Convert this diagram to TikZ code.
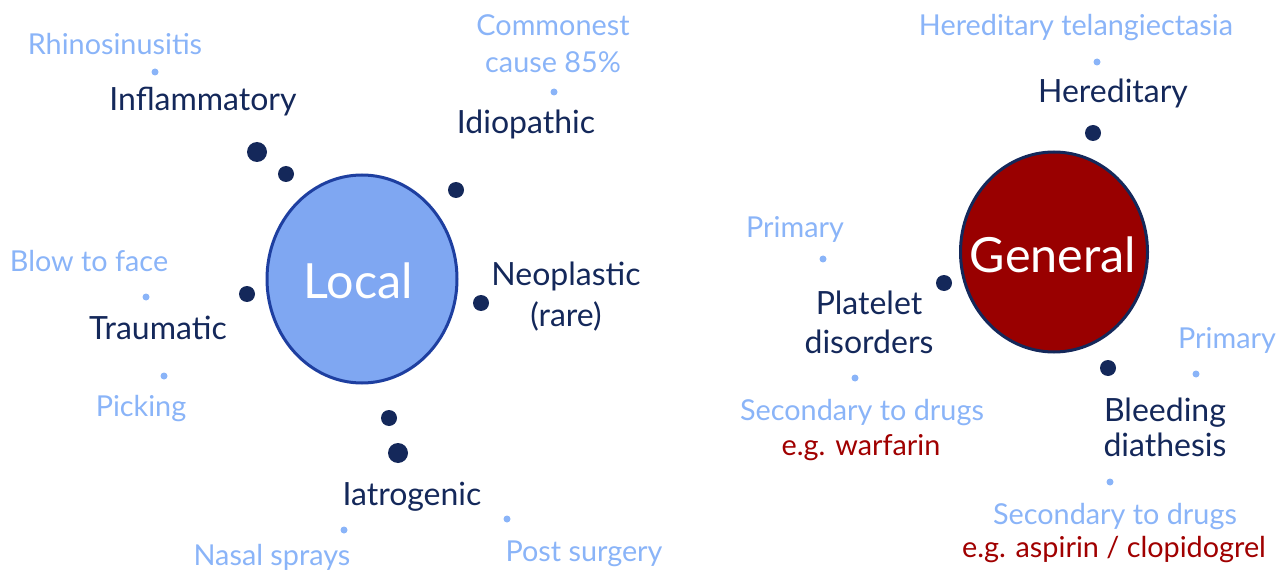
\documentclass[tikz,border=0pt]{standalone}
\usepackage{fontspec}
\setmainfont{Lato}
\usetikzlibrary{shapes.geometric}
\definecolor{navy}{HTML}{14285A}
\definecolor{lite}{HTML}{8AB4F8}
\definecolor{localfill}{HTML}{7FA7F2}
\definecolor{localedge}{HTML}{1E3FA0}
\definecolor{genfill}{HTML}{990000}
\definecolor{redtxt}{HTML}{A00000}
\tikzset{
  main/.style={text=navy, font=\fontsize{32}{38}\selectfont, align=center, inner sep=0pt},
  sub/.style={text=lite, font=\fontsize{28.8}{38}\selectfont, align=center, inner sep=0pt},
  ex/.style={text=redtxt, font=\fontsize{28.8}{38}\selectfont, align=center, inner sep=0pt},
  bigdot/.style={circle, fill=navy, minimum size=20pt, inner sep=0pt},
  meddot/.style={circle, fill=navy, minimum size=16pt, inner sep=0pt},
  smalldot/.style={circle, fill=lite, minimum size=7pt, inner sep=0pt},
  hub/.style={ellipse, line width=3pt, inner sep=0pt},
  hubtext/.style={text=white, font=\fontsize{48.5}{54}\selectfont, inner sep=0pt}
}
\begin{document}
\begin{tikzpicture}[x=1pt,y=-1pt]
\useasboundingbox (0,0) rectangle (1288,572);
% Local
\node[hub, fill=localfill, draw=localedge, minimum width=190pt, minimum height=208pt] (local) at (362,279) {};
\node[hubtext] (localtxt) at (358,281) {Local};
% Inflammatory
\node[sub] (rhino) at (115,44) {Rhinosinusitis};
\node[smalldot] (rhinodot) at (155,72) {};
\node[main] (inflam) at (203,102) {Inflammatory};
\node[bigdot] (inflamdot1) at (257,152) {};
\node[meddot] (inflamdot2) at (286,174) {};
% Idiopathic
\node[sub, font=\fontsize{28.8}{37}\selectfont] (common) at (553,44) {Commonest\\cause 85\%};
\node[smalldot] (commondot) at (554,92) {};
\node[main] (idio) at (526,124) {Idiopathic};
\node[meddot] (idiodot) at (456,190) {};
% Neoplastic
\node[meddot] (neodot) at (481,303) {};
\node[main, font=\fontsize{32}{41}\selectfont] (neo) at (566,297) {Neoplastic\\(rare)};
% Traumatic
\node[meddot] (traudot) at (247,294) {};
\node[sub] (blow) at (89,261) {Blow to face};
\node[smalldot] (blowdot) at (146,297) {};
\node[main] (trau) at (158,328) {Traumatic};
\node[smalldot] (pickdot) at (164,376) {};
\node[sub] (pick) at (141,409) {Picking};
% Iatrogenic
\node[meddot] (iatdot1) at (389,418) {};
\node[bigdot] (iatdot2) at (398,453) {};
\node[main] (iat) at (412,497) {Iatrogenic};
\node[smalldot] (nasaldot) at (344,530) {};
\node[sub] (nasal) at (272,557) {Nasal sprays};
\node[smalldot] (postdot) at (507,519) {};
\node[sub] (post) at (584,554) {Post surgery};
% General
\node[hub, fill=genfill, draw=navy, minimum width=187pt, minimum height=200pt] (gen) at (1054,252) {};
\node[hubtext] (gentxt) at (1053,255) {General};
% Hereditary
\node[sub] (telang) at (1076,28) {Hereditary telangiectasia};
\node[smalldot] (telangdot) at (1097,62) {};
\node[main] (hered) at (1113,93) {Hereditary};
\node[meddot] (hereddot) at (1093,133) {};
% Platelet
\node[meddot] (platdot) at (944,283) {};
\node[sub] (prim1) at (795,229) {Primary};
\node[smalldot] (prim1dot) at (823,259) {};
\node[main, font=\fontsize{32}{39}\selectfont] (plat) at (869,322) {Platelet\\disorders};
\node[smalldot] (sec1dot) at (855,378) {};
\node[sub] (sec1) at (862,413) {Secondary to drugs};
\node[ex] (warf) at (861,448) {e.g. warfarin};
% Bleeding
\node[meddot] (bleeddot) at (1108,368) {};
\node[sub] (prim2) at (1227,340) {Primary};
\node[smalldot] (prim2dot) at (1196,374) {};
\node[main, font=\fontsize{32}{35}\selectfont] (bleed) at (1165,427) {Bleeding\\diathesis};
\node[smalldot] (sec2dot) at (1110,482) {};
\node[sub] (sec2) at (1115,517) {Secondary to drugs};
\node[ex] (asp) at (1114,550) {e.g. aspirin / clopidogrel};
\end{tikzpicture}
\end{document}
